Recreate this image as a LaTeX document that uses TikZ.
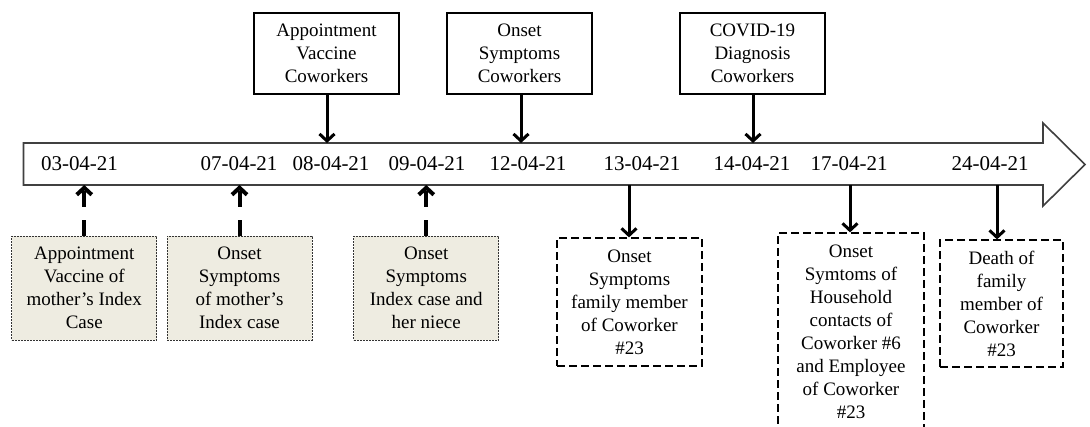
\documentclass[tikz,border=0pt]{standalone}
\usepackage{fontspec}
\setmainfont{Liberation Serif}
\usetikzlibrary{arrows.meta}
\definecolor{tan}{HTML}{EEECE1}
\tikzset{
  topbox/.style={draw=black, line width=1.2pt, fill=white, minimum width=145pt, minimum height=81pt, inner sep=0pt, align=center, font=\fontsize{19}{23}\selectfont},
  tanbox/.style={draw=black!80, line width=1pt, dash pattern=on 2pt off 1pt, fill=tan, minimum width=145pt, minimum height=104pt, inner sep=0pt, align=center, font=\fontsize{19}{23}\selectfont},
  dbox/.style={draw=black, line width=1.2pt, dash pattern=on 8pt off 4pt, fill=white, inner sep=0pt, align=center, font=\fontsize{19}{23}\selectfont},
  datelabel/.style={inner sep=0pt, font=\fontsize{21}{24}\selectfont},
  solidarrow/.style={line width=3pt, -{Straight Barb[length=7pt,width=15pt]}},
  dasharrow/.style={line width=4pt, dash pattern=on 16pt off 13pt, -{Straight Barb[length=7pt,width=15pt]}},
  timeline/.style={draw=black!75, line width=1.6pt, fill=white, line join=miter}
}
\begin{document}
\begin{tikzpicture}[x=1pt,y=-1pt]
\useasboundingbox (0,0) rectangle (1090,426);
% timeline arrow
\draw[timeline] (23.5,143) -- (1043,143) -- (1043,123) -- (1085,164.5) -- (1043,206) -- (1043,185) -- (23.5,185) -- cycle;
\coordinate (ttop) at (0,143);
\coordinate (tbot) at (0,185);
% dates
\node[datelabel] (d03) at (79.5,164) {03-04-21};
\node[datelabel] (d07) at (239,164) {07-04-21};
\node[datelabel] (d08) at (331,164) {08-04-21};
\node[datelabel] (d09) at (427,164) {09-04-21};
\node[datelabel] (d12) at (528,164) {12-04-21};
\node[datelabel] (d13) at (642,164) {13-04-21};
\node[datelabel] (d14) at (752,164) {14-04-21};
\node[datelabel] (d17) at (849,164) {17-04-21};
\node[datelabel] (d24) at (990,164) {24-04-21};
% top boxes
\node[topbox] (t1) at (326.5,53.5) {Appointment\\Vaccine\\Coworkers};
\node[topbox] (t2) at (519.5,53.5) {Onset\\Symptoms\\Coworkers};
\node[topbox] (t3) at (752.5,53.5) {COVID-19\\Diagnosis\\Coworkers};
\coordinate (a1) at (327,143);
\coordinate (a2) at (521,143);
\coordinate (a3) at (753,143);
\draw[solidarrow] (a1 |- t1.south) -- (a1);
\draw[solidarrow] (a2 |- t2.south) -- (a2);
\draw[solidarrow] (a3 |- t3.south) -- (a3);
% bottom tan boxes
\node[tanbox] (bA) at (84.25,288) {Appointment\\Vaccine of\\mother’s Index\\Case};
\node[tanbox] (bB) at (239.5,288) {Onset\\Symptoms\\of mother’s\\Index case};
\node[tanbox] (bC) at (426.25,288) {Onset\\Symptoms\\Index case and\\her niece};
\draw[dasharrow] (bA.north) -- (bA.north |- tbot);
\draw[dasharrow] (bB.north) -- (bB.north |- tbot);
\draw[dasharrow] (bC.north) -- (bC.north |- tbot);
% bottom dashed boxes
\node[dbox, minimum width=145pt, minimum height=128pt] (b13) at (629.5,302) {Onset\\Symptoms\\family member\\of Coworker\\\#23};
\node[dbox, minimum width=146pt, minimum height=197pt] (b17) at (851,331.5) {Onset\\Symtoms of\\Household\\contacts of\\Coworker \#6\\and Employee\\of Coworker\\\#23};
\node[dbox, minimum width=123pt, minimum height=127pt] (b24) at (1001.5,303.5) {Death of\\family\\member of\\Coworker\\\#23};
\coordinate (c13) at (629,185);
\coordinate (c17) at (850,185);
\coordinate (c24) at (997,185);
\draw[solidarrow] (c13) -- (c13 |- b13.north);
\draw[solidarrow] (c17) -- (c17 |- b17.north);
\draw[solidarrow] (c24) -- (c24 |- b24.north);
\end{tikzpicture}
\end{document}
